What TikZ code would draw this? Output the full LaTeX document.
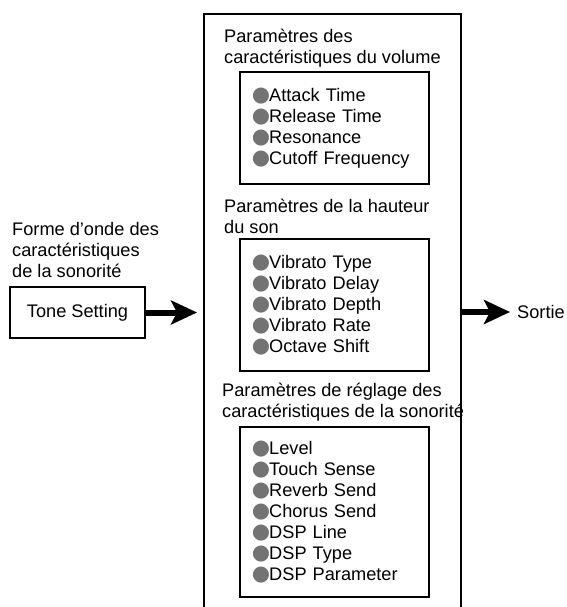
\documentclass[tikz,border=0pt]{standalone}
\usepackage{fontspec}
\setmainfont{Liberation Sans}
\newfontfamily\simboli{DejaVu Sans}
\usepackage{xcolor}
\usepackage{tikz}
\usetikzlibrary{arrows.meta}
\usetikzlibrary{positioning}

\definecolor{grigiopunto}{gray}{0.45}
\newcommand{\pallino}{{\color{grigiopunto}\simboli\fontsize{21}{21}\selectfont ●}\kern-1pt}

\begin{document}
\begin{tikzpicture}[x=1pt, y=-1pt,
    font=\fontsize{18.2}{21}\selectfont,
    scatola/.style={draw, line width=1.8pt, anchor=north west, minimum width=189pt,
      text width=165pt, inner xsep=12pt, inner ysep=0pt, align=left},
    titolo/.style={anchor=base west, align=left, inner sep=0pt},
    freccia/.style={line width=6pt, -{Stealth[length=26pt, width=24pt, inset=6pt]}}]
  \useasboundingbox (0,0) rectangle (566,607);

  % Riquadro grande (aperto in basso)
  \coordinate (grandeNO) at (204,14);
  \coordinate (grandeNE) at (461,14);
  \draw[line width=2.8pt] (grandeNO |- 0,607) -- (grandeNO) -- (grandeNE) -- (grandeNE |- 0,607);

  % Volume (base = ultima riga)
  \node[titolo] (titVol) at (224,64) {Paramètres des\\caractéristiques du volume};
  \node[scatola, minimum height=112pt] (vol) at (239,71)
    {\pallino Attack Time\\\pallino Release Time\\\pallino Resonance\\\pallino Cutoff Frequency};

  % Hauteur du son
  \node[titolo] (titAlt) at (224,233) {Paramètres de la hauteur\\du son};
  \node[scatola, minimum height=132pt] (alt) at (239,238)
    {\pallino Vibrato Type\\\pallino Vibrato Delay\\\pallino Vibrato Depth\\\pallino Vibrato Rate\\\pallino Octave Shift};

  % Reglage
  \node[titolo] (titReg) at (222,417) {Paramètres de réglage des\\caractéristiques de la sonorité};
  \node[scatola, minimum height=170pt] (reg) at (239,426)
    {\pallino Level\\\pallino Touch Sense\\\pallino Reverb Send\\\pallino Chorus Send\\\pallino DSP Line\\\pallino DSP Type\\\pallino DSP Parameter};

  % Ingresso
  \node[titolo] (forma) at (12,277) {Forme d’onde des\\caractéristiques\\de la sonorité};
  \node[draw, line width=1.8pt, minimum width=135pt, minimum height=51pt] (tono) at (77.5,312.5) {Tone Setting};
  \draw[freccia, shorten >=7pt] (tono.east) -- (tono.east -| grandeNO);

  % Uscita
  \node[anchor=west, inner sep=0pt] (sortie) at (517,312) {Sortie};
  \draw[freccia, shorten >=7pt] (sortie.west -| grandeNE) -- (sortie.west);
\end{tikzpicture}
\end{document}
